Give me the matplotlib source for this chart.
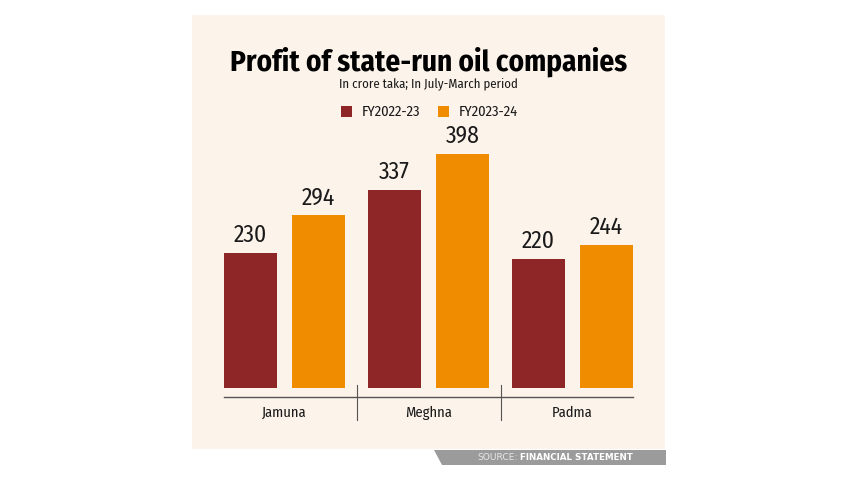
import matplotlib.pyplot as plt
from matplotlib.patches import Rectangle, Polygon
import numpy as np

companies = ["Jamuna", "Meghna", "Padma"]
fy2223 = [230, 337, 220]
fy2324 = [294, 398, 244]
series_names = ["FY2022-23", "FY2023-24"]

c_red = "#8e2526"
c_orange = "#f08c00"
c_panel = "#fcf3ea"
c_text = "#1a1a1a"
font = ["Fira Sans Condensed", "DejaVu Sans"]

W, H = 857, 482
fig = plt.figure(figsize=(W / 100, H / 100), dpi=100)
fig.patch.set_facecolor("white")


def fx(px):
    return px / W


def fy(py):
    return 1 - py / H


# background panel
fig.patches.append(Rectangle((fx(192), fy(449)), fx(665) - fx(192), fy(15) - fy(449),
                             transform=fig.transFigure, facecolor=c_panel, edgecolor="none", zorder=-5))

# source strip
fig.patches.append(Polygon([(fx(434), fy(450)), (fx(666), fy(450)), (fx(666), fy(465)), (fx(442), fy(465))],
                           transform=fig.transFigure, facecolor="#9b9b9b", edgecolor="none", zorder=-5))
fig.text(fx(633), fy(457.5), "FINANCIAL STATEMENT", ha="right", va="center", fontsize=6.3,
         fontweight="bold", color="white", family="DejaVu Sans")
fig.text(fx(518), fy(457.5), "SOURCE:", ha="right", va="center", fontsize=6.6,
         color="#e6e6e6", family="DejaVu Sans")

# title block
fig.text(0.5, fy(62), "Profit of state-run oil companies", ha="center", va="center",
         fontsize=21, fontweight="bold", color="black", family=font)
fig.text(0.5, fy(84), "In crore taka; In July-March period", ha="center", va="center",
         fontsize=9.2, color=c_text, family=font)

# legend
for sx, name, col in [(341, series_names[0], c_red), (438, series_names[1], c_orange)]:
    fig.patches.append(Rectangle((fx(sx), fy(117)), fx(11), fx(11) * W / H,
                                 transform=fig.transFigure, facecolor=col, edgecolor="none"))
    fig.text(fx(sx + 21), fy(111.5), name, ha="left", va="center", fontsize=10.5,
             color=c_text, family=font)

# bars
ax = fig.add_axes([fx(212.5), fy(388), fx(644.5) - fx(212.5), (388 - 154) / H * 400 / 398], zorder=2)
ax.set_facecolor("none")
ax.set_xlim(-0.5, 2.5)
ax.set_ylim(0, 400)
ax.axis("off")

x = np.arange(len(companies))
width = 53 / 144
off = 34 / 144
ax.bar(x - off, fy2223, width=width, color=c_red)
ax.bar(x + off, fy2324, width=width, color=c_orange)

for xi, v in zip(x - off, fy2223):
    ax.text(xi, v + 10, str(v), ha="center", va="bottom", fontsize=17, color=c_text, family=font)
for xi, v in zip(x + off, fy2324):
    ax.text(xi, v + 10, str(v), ha="center", va="bottom", fontsize=17, color=c_text, family=font)

# axis line, dividers and category labels
ax.plot([-0.42, 2.42], [-15, -15], color="#555555", lw=1, clip_on=False)
for d in [0.5, 1.5]:
    ax.plot([d, d], [5, -54], color="#555555", lw=0.8, clip_on=False)
for xi, name in zip(x, companies):
    ax.text(xi, -42, name, ha="center", va="center", fontsize=10.5, color=c_text, family=font)

plt.savefig("out.png", dpi=100, facecolor="white")
